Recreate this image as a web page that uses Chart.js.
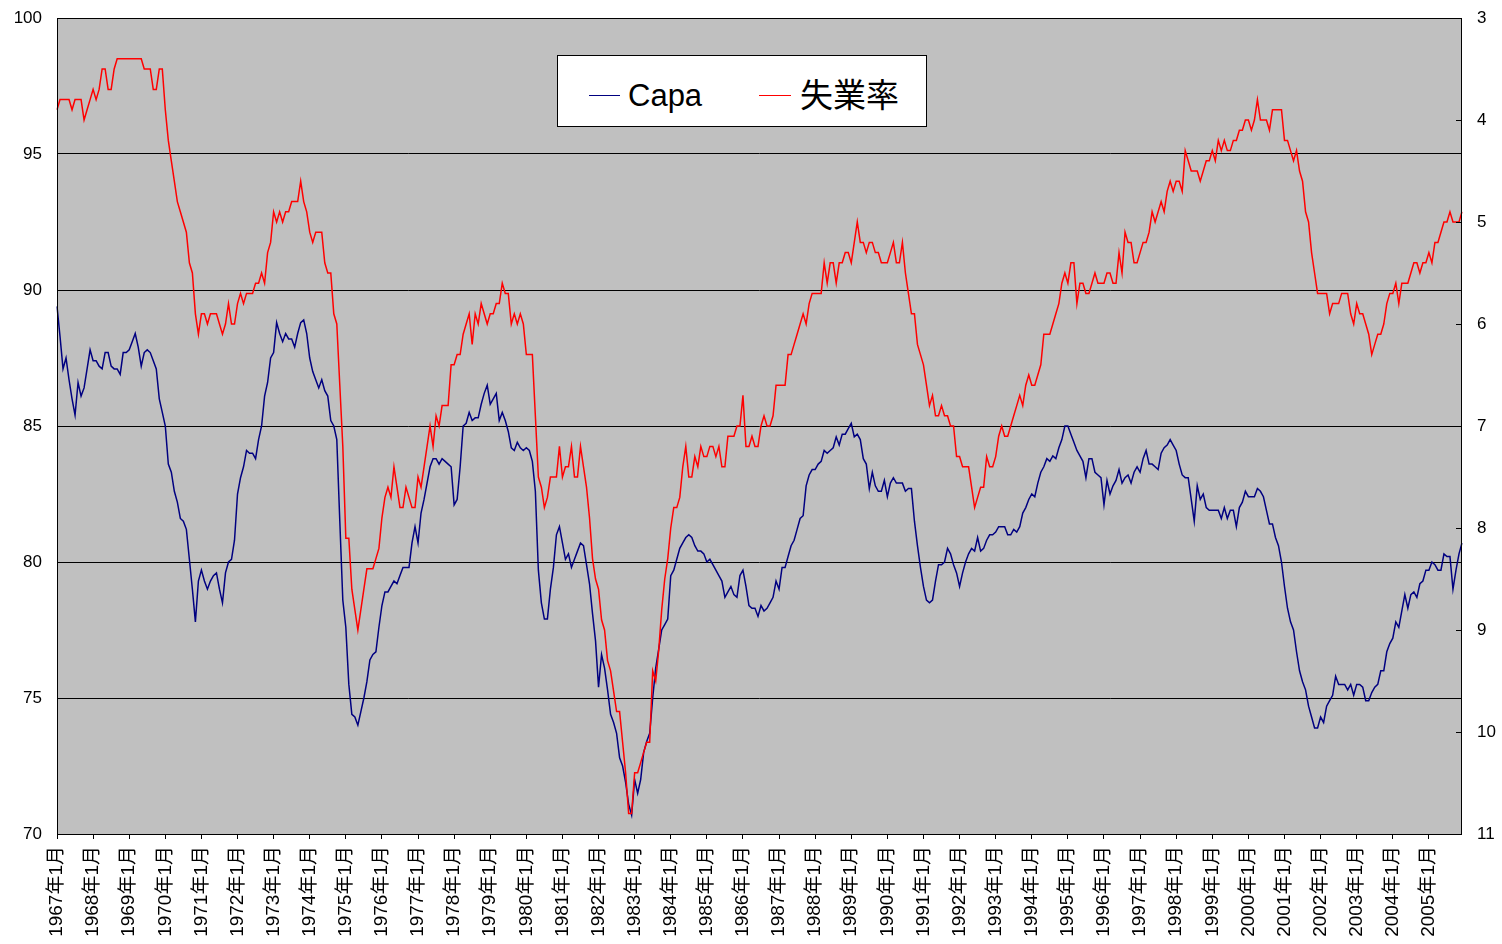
<!DOCTYPE html>
<html><head><meta charset="utf-8">
<script src="https://cdn.jsdelivr.net/npm/chart.js@4.4.0/dist/chart.umd.min.js"></script>
<style>
html,body{margin:0;padding:0;background:#fff;}
#wrap{position:relative;width:1502px;height:944px;overflow:hidden;}
#legend{position:absolute;left:557px;top:55px;width:368px;height:70px;border:1px solid #000;background:#fff;}
.sw{position:absolute;height:0;border-top:1.5px solid;}
.lt{position:absolute;line-height:1;color:#000;white-space:nowrap;}
</style></head><body>
<div id="wrap"><canvas id="c" width="1502" height="944"></canvas>
<div id="legend">
 <div class="sw" style="left:31px;top:39px;width:31px;border-color:#000080"></div>
 <div class="lt" style="left:70px;top:24px;font-size:31px;font-family:'Liberation Sans',Arial,sans-serif">Capa</div>
 <div class="sw" style="left:201px;top:39px;width:32px;border-color:#ff0000"></div>
 <div class="lt" style="left:242px;top:21px;font-size:33px;font-family:'Noto Sans CJK JP',sans-serif">失業率</div>
</div></div>
<script>
const startYear = 1967, endYear = 2005;
const seriesNames = ['Capa', '失業率'];
const leftTicks = [70, 75, 80, 85, 90, 95, 100];
const rightTicks = [3, 4, 5, 6, 7, 8, 9, 10, 11];

// Capacity utilization (%), monthly 1967-01 .. 2005-12
const capa = [
 89.4,88.3,87.1,87.5,86.7,86.0,85.4,86.6,86.1,86.4,87.1,87.8,
 87.4,87.4,87.2,87.1,87.7,87.7,87.2,87.1,87.1,86.9,87.7,87.7,
 87.8,88.1,88.4,87.9,87.2,87.7,87.8,87.7,87.4,87.1,86.0,85.5,
 85.0,83.6,83.3,82.6,82.2,81.6,81.5,81.2,80.1,79.0,77.8,79.3,
 79.7,79.3,79.0,79.3,79.5,79.6,79.0,78.5,79.6,80.0,80.1,80.8,
 82.5,83.1,83.5,84.1,84.0,84.0,83.8,84.5,85.0,86.1,86.6,87.5,
 87.7,88.8,88.4,88.1,88.4,88.2,88.2,87.9,88.4,88.8,88.9,88.4,
 87.5,87.0,86.7,86.4,86.7,86.3,86.1,85.2,85.0,84.5,81.5,78.6,
 77.6,75.5,74.4,74.3,74.0,74.5,75.0,75.6,76.4,76.6,76.7,77.6,
 78.4,78.9,78.9,79.1,79.3,79.2,79.5,79.8,79.8,79.8,80.7,81.3,
 80.7,81.8,82.3,82.9,83.5,83.8,83.8,83.6,83.8,83.7,83.6,83.5,
 82.1,82.3,83.5,85.0,85.1,85.5,85.2,85.3,85.3,85.8,86.2,86.5,
 85.8,86.0,86.2,85.2,85.5,85.2,84.8,84.2,84.1,84.4,84.2,84.1,
 84.2,84.1,83.7,82.6,79.7,78.5,77.9,77.9,79.0,79.8,81.0,81.3,
 80.7,80.1,80.3,79.8,80.1,80.4,80.7,80.6,79.9,79.2,78.1,77.1,
 75.4,76.6,76.1,75.3,74.4,74.1,73.7,72.8,72.5,71.9,71.1,70.7,
 72.0,71.5,72.0,73.0,73.4,73.7,75.0,76.1,76.8,77.5,77.7,77.9,
 79.5,79.7,80.1,80.5,80.7,80.9,81.0,80.9,80.6,80.4,80.4,80.3,
 80.0,80.1,79.9,79.7,79.5,79.3,78.7,78.9,79.1,78.8,78.7,79.5,
 79.7,79.1,78.4,78.3,78.3,78.0,78.4,78.2,78.3,78.5,78.7,79.3,
 79.0,79.8,79.8,80.2,80.6,80.8,81.2,81.6,81.7,82.8,83.2,83.4,
 83.4,83.6,83.7,84.1,84.0,84.1,84.2,84.6,84.3,84.7,84.7,84.9,
 85.1,84.6,84.7,84.5,83.8,83.6,82.7,83.3,82.8,82.6,82.6,83.0,
 82.4,82.9,83.1,82.9,82.9,82.9,82.6,82.7,82.7,81.5,80.6,79.8,
 79.1,78.6,78.5,78.6,79.3,79.9,79.9,80.0,80.5,80.3,79.9,79.6,
 79.1,79.6,80.0,80.3,80.5,80.4,80.9,80.4,80.5,80.8,81.0,81.0,
 81.1,81.3,81.3,81.3,81.0,81.0,81.2,81.1,81.3,81.8,82.0,82.3,
 82.5,82.4,82.9,83.3,83.5,83.8,83.7,83.9,83.8,84.2,84.5,85.0,
 85.0,84.7,84.4,84.1,83.9,83.7,83.1,83.8,83.8,83.3,83.2,83.1,
 82.1,83.0,82.5,82.8,83.0,83.4,82.9,83.1,83.2,82.9,83.3,83.5,
 83.3,83.8,84.1,83.6,83.6,83.5,83.4,84.0,84.2,84.3,84.5,84.3,
 84.1,83.6,83.2,83.1,83.1,82.3,81.5,82.8,82.3,82.5,82.0,81.9,
 81.9,81.9,81.9,81.6,82.0,81.6,81.9,81.9,81.3,82.0,82.2,82.6,
 82.4,82.4,82.4,82.7,82.6,82.4,81.9,81.4,81.4,80.9,80.6,80.0,
 79.1,78.3,77.8,77.5,76.7,76.0,75.6,75.3,74.7,74.3,73.9,73.9,
 74.3,74.1,74.7,74.9,75.1,75.8,75.5,75.5,75.5,75.3,75.5,75.1,
 75.5,75.5,75.4,74.9,74.9,75.2,75.4,75.5,76.0,76.0,76.7,77.0,
 77.2,77.8,77.6,78.2,78.8,78.3,78.8,78.9,78.7,79.2,79.3,79.7,
 79.7,80.0,79.9,79.7,79.7,80.3,80.2,80.2,79.0,79.7,80.3,80.7
];

// Unemployment rate (%), monthly 1967-01 .. 2005-12 (right axis, inverted)
const unemp = [
 3.9,3.8,3.8,3.8,3.8,3.9,3.8,3.8,3.8,4.0,3.9,3.8,
 3.7,3.8,3.7,3.5,3.5,3.7,3.7,3.5,3.4,3.4,3.4,3.4,
 3.4,3.4,3.4,3.4,3.4,3.5,3.5,3.5,3.7,3.7,3.5,3.5,
 3.9,4.2,4.4,4.6,4.8,4.9,5.0,5.1,5.4,5.5,5.9,6.1,
 5.9,5.9,6.0,5.9,5.9,5.9,6.0,6.1,6.0,5.8,6.0,6.0,
 5.8,5.7,5.8,5.7,5.7,5.7,5.6,5.6,5.5,5.6,5.3,5.2,
 4.9,5.0,4.9,5.0,4.9,4.9,4.8,4.8,4.8,4.6,4.8,4.9,
 5.1,5.2,5.1,5.1,5.1,5.4,5.5,5.5,5.9,6.0,6.6,7.2,
 8.1,8.1,8.6,8.8,9.0,8.8,8.6,8.4,8.4,8.4,8.3,8.2,
 7.9,7.7,7.6,7.7,7.4,7.6,7.8,7.8,7.6,7.7,7.8,7.8,
 7.5,7.6,7.4,7.2,7.0,7.2,6.9,7.0,6.8,6.8,6.8,6.4,
 6.4,6.3,6.3,6.1,6.0,5.9,6.2,5.9,6.0,5.8,5.9,6.0,
 5.9,5.9,5.8,5.8,5.6,5.7,5.7,6.0,5.9,6.0,5.9,6.0,
 6.3,6.3,6.3,6.9,7.5,7.6,7.8,7.7,7.5,7.5,7.5,7.2,
 7.5,7.4,7.4,7.2,7.5,7.5,7.2,7.4,7.6,7.9,8.3,8.5,
 8.6,8.9,9.0,9.3,9.4,9.6,9.8,9.8,10.1,10.4,10.8,10.8,
 10.4,10.4,10.3,10.2,10.1,10.1,9.4,9.5,9.2,8.8,8.5,8.3,
 8.0,7.8,7.8,7.7,7.4,7.2,7.5,7.5,7.3,7.4,7.2,7.3,
 7.3,7.2,7.2,7.3,7.2,7.4,7.4,7.1,7.1,7.1,7.0,7.0,
 6.7,7.2,7.2,7.1,7.2,7.2,7.0,6.9,7.0,7.0,6.9,6.6,
 6.6,6.6,6.6,6.3,6.3,6.2,6.1,6.0,5.9,6.0,5.8,5.7,
 5.7,5.7,5.7,5.4,5.6,5.4,5.4,5.6,5.4,5.4,5.3,5.3,
 5.4,5.2,5.0,5.2,5.2,5.3,5.2,5.2,5.3,5.3,5.4,5.4,
 5.4,5.3,5.2,5.4,5.4,5.2,5.5,5.7,5.9,5.9,6.2,6.3,
 6.4,6.6,6.8,6.7,6.9,6.9,6.8,6.9,6.9,7.0,7.0,7.3,
 7.3,7.4,7.4,7.4,7.6,7.8,7.7,7.6,7.6,7.3,7.4,7.4,
 7.3,7.1,7.0,7.1,7.1,7.0,6.9,6.8,6.7,6.8,6.6,6.5,
 6.6,6.6,6.5,6.4,6.1,6.1,6.1,6.0,5.9,5.8,5.6,5.5,
 5.6,5.4,5.4,5.8,5.6,5.6,5.7,5.7,5.6,5.5,5.6,5.6,
 5.6,5.5,5.5,5.6,5.6,5.3,5.5,5.1,5.2,5.2,5.4,5.4,
 5.3,5.2,5.2,5.1,4.9,5.0,4.9,4.8,4.9,4.7,4.6,4.7,
 4.6,4.6,4.7,4.3,4.4,4.5,4.5,4.5,4.6,4.5,4.4,4.4,
 4.3,4.4,4.2,4.3,4.2,4.3,4.3,4.2,4.2,4.1,4.1,4.0,
 4.0,4.1,4.0,3.8,4.0,4.0,4.0,4.1,3.9,3.9,3.9,3.9,
 4.2,4.2,4.3,4.4,4.3,4.5,4.6,4.9,5.0,5.3,5.5,5.7,
 5.7,5.7,5.7,5.9,5.8,5.8,5.8,5.7,5.7,5.7,5.9,6.0,
 5.8,5.9,5.9,6.0,6.1,6.3,6.2,6.1,6.1,6.0,5.8,5.7,
 5.7,5.6,5.8,5.6,5.6,5.6,5.5,5.4,5.4,5.5,5.4,5.4,
 5.3,5.4,5.2,5.2,5.1,5.0,5.0,4.9,5.0,5.0,5.0,4.9
];

const categories = [];
for (let y = startYear; y <= endYear; y++) {
  for (let m = 1; m <= 12; m++) categories.push(y + '年' + m + '月');
}

const FONT = "'Liberation Sans', Arial, 'Noto Sans CJK JP', sans-serif";

const plotDeco = {
  id: 'plotDeco',
  beforeDraw(chart) {
    const a = chart.chartArea, ctx = chart.ctx;
    ctx.save();
    ctx.fillStyle = '#c0c0c0';
    ctx.fillRect(a.left, a.top, a.right - a.left, a.bottom - a.top);
    ctx.restore();
  },
  afterDatasetsDraw(chart) {
    const a = chart.chartArea, ctx = chart.ctx;
    ctx.save();
    ctx.strokeStyle = '#000';
    ctx.lineWidth = 1;
    ctx.strokeRect(a.left + 0.5, a.top + 0.5, a.right - a.left - 1, a.bottom - a.top);
    const yr = chart.scales.yR;
    ctx.beginPath();
    rightTicks.forEach(v => {
      const p = Math.round(yr.getPixelForValue(v)) + 0.5;
      ctx.moveTo(a.right - 6, p); ctx.lineTo(a.right, p);
    });
    ctx.stroke();
    ctx.restore();
  }
};

function fixW(w) { return s => { s.width = w; s.paddingTop = 0; s.paddingBottom = 0; s.paddingLeft = 0; s.paddingRight = 0; }; }

new Chart(document.getElementById('c'), {
  type: 'line',
  data: {
    labels: categories,
    datasets: [
      { label: seriesNames[0], data: capa, yAxisID: 'yL', borderColor: '#000080', borderWidth: 1.5,
        pointRadius: 0, tension: 0, fill: false, order: 2 },
      { label: seriesNames[1], data: unemp, yAxisID: 'yR', borderColor: '#ff0000', borderWidth: 1.5,
        pointRadius: 0, tension: 0, fill: false, order: 1 }
    ]
  },
  options: {
    responsive: false,
    animation: false,
    devicePixelRatio: 1,
    layout: { padding: { top: 18, left: 0, right: 0, bottom: 0 } },
    plugins: { legend: { display: false }, tooltip: { enabled: false } },
    scales: {
      x: {
        type: 'category',
        offset: false,
        grid: { display: true, drawOnChartArea: false, drawTicks: true, tickLength: 5, color: '#000' },
        border: { display: false },
        ticks: {
          autoSkip: false, minRotation: 90, maxRotation: 90, padding: 7,
          color: '#000', font: { family: FONT, size: 19 },
          callback: (v, i) => (i % 12 === 0 ? categories[i] : null)
        },
        afterFit: s => { s.height = 110; s.paddingLeft = 0; s.paddingRight = 0; s.paddingTop = 0; s.paddingBottom = 0; }
      },
      yL: {
        position: 'left', min: 70, max: 100,
        afterBuildTicks: s => { s.ticks = leftTicks.map(v => ({ value: v })); },
        grid: { color: '#000', lineWidth: 1, drawTicks: false },
        border: { display: false },
        ticks: { padding: 15, color: '#000', font: { family: FONT, size: 17 } },
        afterFit: fixW(57)
      },
      yR: {
        position: 'right', min: 3, max: 11, reverse: true,
        afterBuildTicks: s => { s.ticks = rightTicks.map(v => ({ value: v })); },
        grid: { drawOnChartArea: false, drawTicks: false },
        border: { display: false },
        ticks: { padding: 15, color: '#000', font: { family: FONT, size: 17 } },
        afterFit: fixW(40)
      }
    }
  },
  plugins: [plotDeco]
});
</script>
</body></html>
